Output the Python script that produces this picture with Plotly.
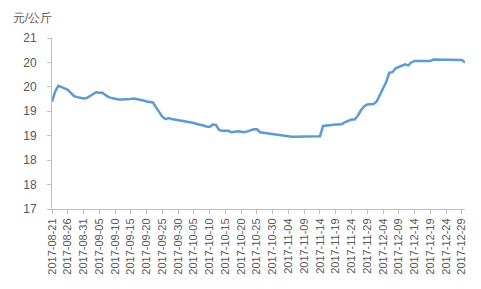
import plotly.graph_objects as go
import pandas as pd

dates = pd.date_range("2017-08-21", "2017-12-30", freq="D").strftime("%Y-%m-%d").tolist()

prices = [
    19.20, 19.40, 19.52, 19.50, 19.47, 19.44, 19.38, 19.31, 19.29, 19.28,
    19.26, 19.27, 19.31, 19.35, 19.39, 19.38, 19.38, 19.33, 19.29, 19.27,
    19.25, 19.24, 19.24, 19.24, 19.24, 19.25, 19.26, 19.25, 19.24, 19.22,
    19.20, 19.19, 19.18, 19.08, 18.98, 18.89, 18.84, 18.86, 18.84, 18.83,
    18.82, 18.81, 18.80, 18.78, 18.77, 18.76, 18.74, 18.73, 18.71, 18.69,
    18.68, 18.73, 18.72, 18.62, 18.60, 18.60, 18.60, 18.57, 18.58, 18.59,
    18.58, 18.57, 18.59, 18.61, 18.63, 18.63, 18.57, 18.56, 18.55, 18.54,
    18.53, 18.52, 18.52, 18.51, 18.50, 18.49, 18.48, 18.48, 18.48, 18.48,
    18.48, 18.48, 18.48, 18.48, 18.48, 18.49, 18.70, 18.71, 18.72, 18.72,
    18.73, 18.73, 18.74, 18.78, 18.81, 18.83, 18.83, 18.91, 19.02, 19.10,
    19.14, 19.14, 19.15, 19.20, 19.33, 19.45, 19.60, 19.79, 19.80, 19.88,
    19.91, 19.93, 19.96, 19.94, 20.00, 20.03, 20.03, 20.03, 20.03, 20.03,
    20.03, 20.06, 20.06, 20.06, 20.06, 20.06, 20.06, 20.06, 20.06, 20.06,
    20.05, 20.00,
]

y_tickvals = [17, 17.5, 18, 18.5, 19, 19.5, 20, 20.5]
y_ticktext = ["17", "18", "18", "19", "19", "20", "20", "21"]
unit_label = "元/公斤"

axis_color = "#bfbfbf"
text_color = "#595959"
font_family = "Liberation Sans, Arial, sans-serif"

fig = go.Figure()
fig.add_trace(go.Scatter(
    x=dates, y=prices, mode="lines",
    line=dict(color="#5B9BD5", width=2.5),
    hoverinfo="skip",
))

fig.update_layout(
    width=481, height=289,
    margin=dict(l=52, r=16, t=38, b=80),
    paper_bgcolor="white", plot_bgcolor="white",
    showlegend=False,
    font=dict(family=font_family, size=11, color=text_color),
    xaxis=dict(
        type="date",
        range=["2017-08-21", "2017-12-30"],
        tick0="2017-08-21", dtick=5 * 86400000,
        tickformat="%Y-%m-%d", tickangle=-90,
        showgrid=False, zeroline=False,
        showline=True, linecolor=axis_color, linewidth=1,
        ticks="outside", ticklen=4, tickcolor=axis_color,
        tickfont=dict(size=11, color=text_color),
    ),
    yaxis=dict(
        range=[17, 20.5],
        tickvals=y_tickvals, ticktext=y_ticktext,
        showgrid=False, zeroline=False,
        showline=True, linecolor=axis_color, linewidth=1,
        ticks="outside", ticklen=4, tickcolor=axis_color,
        tickfont=dict(size=12, color=text_color),
        ticklabelstandoff=8,
    ),
    annotations=[dict(
        text=unit_label, xref="paper", yref="paper",
        x=-41 / 413, y=1 + 20 / 171, xanchor="left", yanchor="middle",
        showarrow=False, font=dict(size=12, color=text_color),
    )],
)

fig.write_html("out.html")
